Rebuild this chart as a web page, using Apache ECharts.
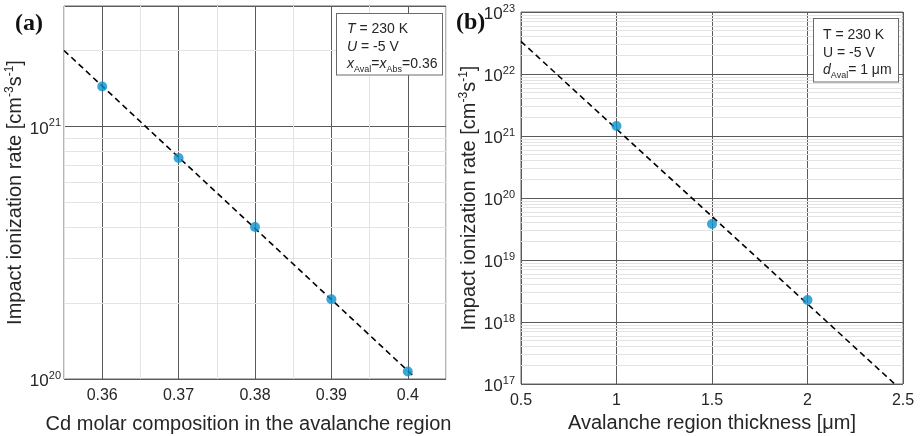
<!DOCTYPE html>
<html>
<head>
<meta charset="utf-8">
<script src="https://cdn.jsdelivr.net/npm/echarts@6/dist/echarts.min.js"></script>
<style>
  html, body { margin: 0; padding: 0; background: #fff; }
  #chart { width: 921px; height: 436px; }
</style>
</head>
<body>
<div id="chart"></div>
<script>
// Panel (a): impact ionization rate vs Cd molar composition
const compA = [0.36, 0.37, 0.38, 0.39, 0.40];
const rateA = [1.44e21, 7.5e20, 4.0e20, 2.07e20, 1.07e20];
const fitCompA = [0.355, 0.4007];
const fitRateA = [2.0e21, 1.03e20];
const yMinorA = [2e20, 3e20, 4e20, 5e20, 6e20, 7e20, 8e20, 9e20, 2e21];

// Panel (b): impact ionization rate vs avalanche region thickness
const thickB = [1, 1.5, 2];
const rateB = [1.45e21, 3.8e19, 2.26e18];
const fitThickB = [0.5, 2.457];
const fitRateB = [3.35e22, 1.0e17];
const decadesB = [17, 18, 19, 20, 21, 22];
const mantissas = [2, 3, 4, 5, 6, 7, 8, 9];

const FONT = '"Liberation Sans", Arial, Helvetica, sans-serif';
const TXT = '#262626';
const MAJOR = '#5a5a5a';
const MINOR = '#e3e3e3';
const FRAME = '#6a6a6a';
const DOT = '#0b90cc';

const yMinorB = [];
decadesB.forEach(d => mantissas.forEach(m => yMinorB.push(m * Math.pow(10, d))));

const supRich = {
  b: { fontSize: 17, fontFamily: FONT, color: TXT, verticalAlign: 'bottom', lineHeight: 22 },
  s: { fontSize: 11, fontFamily: FONT, color: TXT, verticalAlign: 'bottom', padding: [0, 0, 9, 0], lineHeight: 22 }
};

function powLabel(v) {
  const l = Math.log10(v);
  const e = Math.round(l);
  if (Math.abs(l - e) > 1e-6) return '';
  return '{b|10}{s|' + e + '}';
}

const nameRich = {
  n: { fontSize: 20, fontFamily: FONT, color: TXT, verticalAlign: 'bottom', lineHeight: 24 },
  s: { fontSize: 12, fontFamily: FONT, color: TXT, verticalAlign: 'bottom', padding: [0, 0, 10, 0], lineHeight: 24 }
};
const yName = '{n|Impact ionization rate [cm}{s|-3}{n|s}{s|-1}{n|]}';

function minorLines(vals, key) {
  return {
    silent: true,
    z: 1,
    symbol: 'none',
    label: { show: false },
    lineStyle: { color: MINOR, width: 1, type: 'solid' },
    data: vals.map(v => ({ [key]: v }))
  };
}

const option = {
  animation: false,
  backgroundColor: '#fff',
  grid: [
    { left: 64, top: 6, width: 382, height: 373, show: true, borderColor: FRAME, borderWidth: 1, outerBoundsMode: 'none', containLabel: false },
    { left: 521, top: 12, width: 382, height: 372, show: true, borderColor: FRAME, borderWidth: 1, outerBoundsMode: 'none', containLabel: false }
  ],
  xAxis: [
    {
      gridIndex: 0, type: 'value', min: 0.355, max: 0.405, interval: 0.005,
      name: 'Cd molar composition in the avalanche region',
      nameLocation: 'middle', nameGap: 35,
      nameTextStyle: { fontSize: 20, fontFamily: FONT, color: TXT, padding: [0, 13, 0, 0] },
      axisLine: { show: false }, axisTick: { show: false },
      axisLabel: {
        interval: 0, margin: 9, fontSize: 16, fontFamily: FONT, color: TXT,
        formatter: v => Math.abs(v * 100 - Math.round(v * 100)) < 1e-6 ? String(Math.round(v * 100) / 100) : ''
      },
      splitLine: { show: true, lineStyle: { color: [MINOR, MAJOR], width: 1 } }
    },
    {
      gridIndex: 1, type: 'value', min: 0.5, max: 2.5, interval: 0.5,
      name: 'Avalanche region thickness [μm]',
      nameLocation: 'middle', nameGap: 27,
      nameTextStyle: { fontSize: 20, fontFamily: FONT, color: TXT },
      axisLine: { show: false }, axisTick: { show: false },
      axisLabel: { margin: 9, fontSize: 16, fontFamily: FONT, color: TXT, formatter: v => String(v) },
      splitLine: { show: true, lineStyle: { color: MAJOR, width: 1 } }
    }
  ],
  yAxis: [
    {
      gridIndex: 0, type: 'log', logBase: 10, min: 1e20, max: 3e21,
      name: yName, nameLocation: 'middle', nameGap: 36,
      nameTextStyle: { rich: nameRich },
      axisLine: { show: false }, axisTick: { show: false },
      axisLabel: { margin: 3, formatter: powLabel, rich: supRich },
      splitLine: { show: true, lineStyle: { color: MAJOR, width: 1 } }
    },
    {
      gridIndex: 1, type: 'log', logBase: 10, min: 1e17, max: 1e23,
      name: yName, nameLocation: 'middle', nameGap: 40,
      nameTextStyle: { rich: nameRich },
      axisLine: { show: false }, axisTick: { show: false },
      axisLabel: { margin: 6, formatter: powLabel, rich: supRich },
      splitLine: { show: true, lineStyle: { color: MAJOR, width: 1 } }
    }
  ],
  series: [
    {
      type: 'line', xAxisIndex: 0, yAxisIndex: 0, z: 1, data: [],
      markLine: minorLines(yMinorA, 'yAxis')
    },
    {
      type: 'line', xAxisIndex: 1, yAxisIndex: 1, z: 1, data: [],
      markLine: minorLines(yMinorB, 'yAxis')
    },
    {
      type: 'line', xAxisIndex: 0, yAxisIndex: 0, z: 3, showSymbol: false,
      data: fitCompA.map((x, i) => [x, fitRateA[i]]),
      lineStyle: { color: '#000', width: 1.6, type: [6, 4] }
    },
    {
      type: 'line', xAxisIndex: 1, yAxisIndex: 1, z: 3, showSymbol: false,
      data: fitThickB.map((x, i) => [x, fitRateB[i]]),
      lineStyle: { color: '#000', width: 1.6, type: [6, 4] }
    },
    {
      type: 'scatter', xAxisIndex: 0, yAxisIndex: 0, z: 6, symbolSize: 10,
      itemStyle: { color: DOT },
      data: compA.map((x, i) => [x, rateA[i]])
    },
    {
      type: 'scatter', xAxisIndex: 1, yAxisIndex: 1, z: 6, symbolSize: 10,
      itemStyle: { color: DOT },
      data: thickB.map((x, i) => [x, rateB[i]])
    }
  ],
  graphic: [
    {
      type: 'text', left: 15, top: 12, z: 10,
      style: { text: '(a)', font: 'bold 24px "Liberation Serif", "Times New Roman", serif', fill: '#111' }
    },
    {
      type: 'text', left: 456, top: 11, z: 10,
      style: { text: '(b)', font: 'bold 24px "Liberation Serif", "Times New Roman", serif', fill: '#111' }
    },
    {
      type: 'text', left: 336, top: 13, z: 10,
      style: {
        text: '{i|T}{r| = 230 K}\n{i|U}{r| = -5 V}\n{i|x}{sub|Aval}{r|=}{i|x}{sub|Abs}{r|=0.36}',
        backgroundColor: '#fff', borderColor: FRAME, borderWidth: 1,
        padding: [5, 8, 3, 10], width: 87,
        rich: {
          r: { fontSize: 14, fontFamily: FONT, fill: TXT, lineHeight: 17.5, verticalAlign: 'bottom' },
          i: { fontSize: 14, fontFamily: FONT, fontStyle: 'italic', fill: TXT, lineHeight: 17.5, verticalAlign: 'bottom' },
          sub: { fontSize: 9, fontFamily: FONT, fill: TXT, lineHeight: 17.5, verticalAlign: 'bottom', padding: [0, 0, -3, 0] }
        }
      }
    },
    {
      type: 'text', left: 813, top: 18, z: 10,
      style: {
        text: '{r|T = 230 K}\n{r|U = -5 V}\n{i|d}{sub|Aval}{r|= 1 μm}',
        backgroundColor: '#fff', borderColor: FRAME, borderWidth: 1,
        padding: [6, 8, 4, 9], width: 67,
        rich: {
          r: { fontSize: 14, fontFamily: FONT, fill: TXT, lineHeight: 17.5, verticalAlign: 'bottom' },
          i: { fontSize: 14, fontFamily: FONT, fontStyle: 'italic', fill: TXT, lineHeight: 17.5, verticalAlign: 'bottom' },
          sub: { fontSize: 9, fontFamily: FONT, fill: TXT, lineHeight: 17.5, verticalAlign: 'bottom', padding: [0, 0, -3, 0] }
        }
      }
    }
  ]
};

const chart = echarts.init(document.getElementById('chart'), null, { renderer: 'canvas' });
chart.setOption(option);
</script>
</body>
</html>
